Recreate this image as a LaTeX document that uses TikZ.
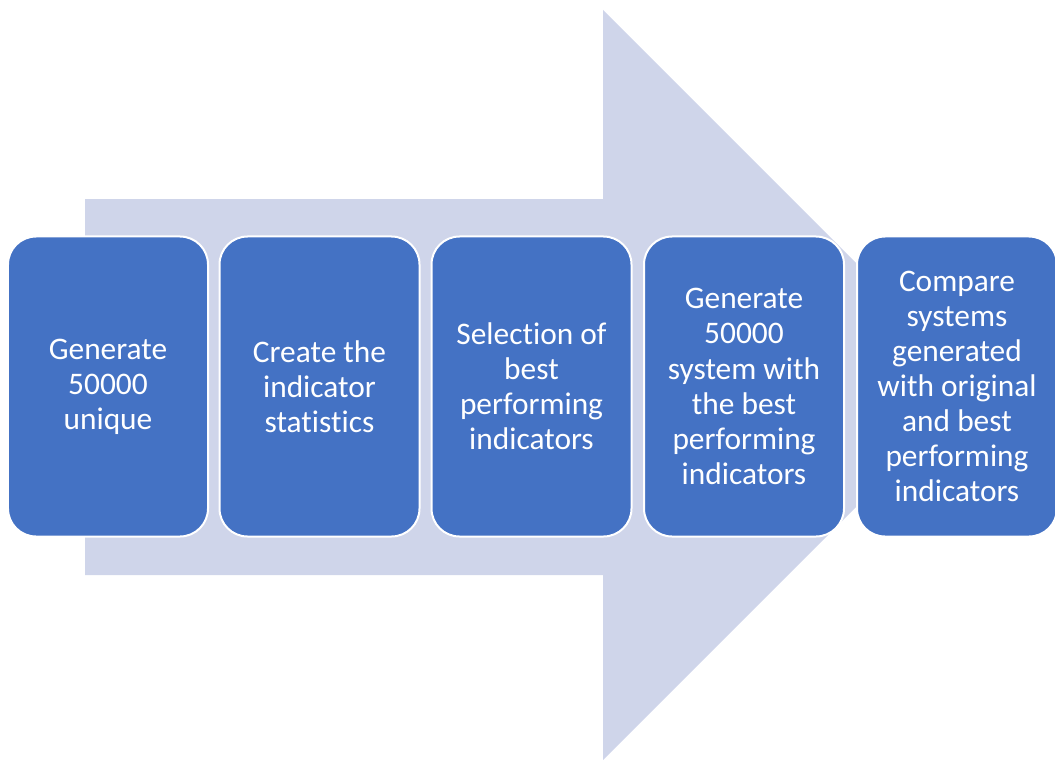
\documentclass[tikz,border=0pt]{standalone}
\usepackage{fontspec}
\setmainfont{Carlito}[Ligatures=NoCommon]
\definecolor{arrowfill}{HTML}{CFD5EA}
\definecolor{stepfill}{HTML}{4472C4}
\begin{document}
\begin{tikzpicture}[x=1bp,y=-1bp,
  stepbox/.style={draw=white, line width=2bp, fill=stepfill, rounded corners=28bp,
    minimum width=200bp, minimum height=300bp, inner sep=0pt,
    text=white, align=center, font=\fontsize{31.5}{35.2}\selectfont},
]
\useasboundingbox (0,0) rectangle (1055,760);
% background process arrow
\fill[arrowfill] (85,199) -- (603,199) -- (603,10) -- (978,385) -- (603,760)
  -- (603,575) -- (85,575) -- cycle;
% process steps
\node[stepbox] (s1) at (108,386.5) {Generate\\50000\\unique};
\node[stepbox] (s2) at (319.5,386.5) {Create the\\indicator\\statistics};
\node[stepbox] (s3) at (531.5,386.5) {Selection of\\best\\performing\\indicators};
\node[stepbox] (s4) at (744,386.5) {Generate\\50000\\system with\\the best\\performing\\indicators};
\node[stepbox] (s5) at (957,386.5) {Compare\\systems\\generated\\with original\\and best\\performing\\indicators};
\end{tikzpicture}
\end{document}
